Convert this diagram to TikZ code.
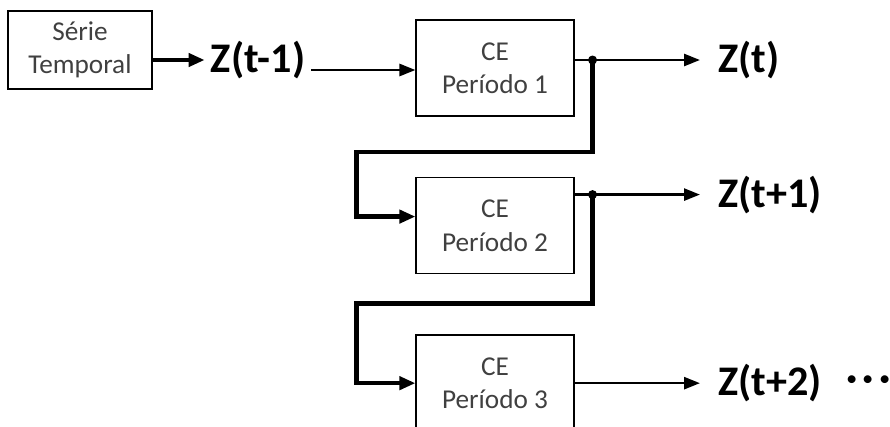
\documentclass[tikz,border=0pt]{standalone}
\usepackage{fontspec}
\setmainfont{Carlito}
\usetikzlibrary{positioning, calc, arrows.meta}

\begin{document}
\begin{tikzpicture}[cebox/.style={draw, line width=0.9pt, minimum width=3.15cm, minimum height=1.92cm, align=center, text=black!75, font=\fontsize{15.5}{19}\selectfont},
                    srcbox/.style={cebox, minimum width=2.88cm, minimum height=1.56cm},
                    zlabel/.style={font=\fontsize{24}{28}\selectfont\bfseries},
                    zout/.style={zlabel, anchor=west, inner xsep=0.36cm},
                    outarrow/.style={-{Triangle[length=3.2mm, width=2.4mm]}, line width=1.5pt},
                    fbarrow/.style={-{Triangle[length=3.2mm, width=2.6mm]}, line width=2.4pt, line join=miter}]
    \useasboundingbox (0,0) rectangle (17.8,-8.54);
    \node[srcbox] (serie) at (1.6,-1.0) {Série\\Temporal};
    \node[cebox] (ce1) at (9.9,-1.36) {CE\\Período 1};
    \node[cebox, below=1.2cm of ce1] (ce2) {CE\\Período 2};
    \node[cebox, below=1.2cm of ce2] (ce3) {CE\\Período 3};
    \node[zlabel] (zm1) at (5.16,-1.2) {Z(t-1)};
    % saidas de cada periodo
    \coordinate (j1) at ($(ce1.east)+(0.36,0.16)$);
    \coordinate (j2) at ($(ce2.east)+(0.36,0.62)$);
    \coordinate (in1) at ($(zm1.east)+(0,-0.2)$);
    \coordinate (in2) at ($(ce2.west)+(0,0.18)$);
    \node[zout] (z0) at (14.0,-1.2) {Z(t)};
    \node[zout] (z1) at (z0.west |- j2) {Z(t+1)};
    \node[zout] (z2) at (z0.west |- ce3.east) {Z(t+2)};
    \node[zlabel, right=0pt of z2] (dots) {·\kern3pt·\kern3pt·};
    \draw[fbarrow] (serie.east |- zm1.west) -- (zm1.west);
    \draw[outarrow] (in1) -- (ce1.west |- in1);
    \draw[outarrow] (ce1.east |- j1) -- (z0.west);
    \draw[outarrow] (ce2.east |- j2) -- (z1.west);
    \draw[outarrow] (ce3.east) -- (z2.west);
    % realimentacao
    \draw[fbarrow] (j1) |- ($(j1)+(-4.72,-1.84)$) |- (in2);
    \draw[fbarrow] (j2) |- ($(j2)+(-4.72,-2.18)$) |- (ce3.west);
    \fill (j1) circle (0.09);
    \fill (j2) circle (0.09);
\end{tikzpicture}
\end{document}
